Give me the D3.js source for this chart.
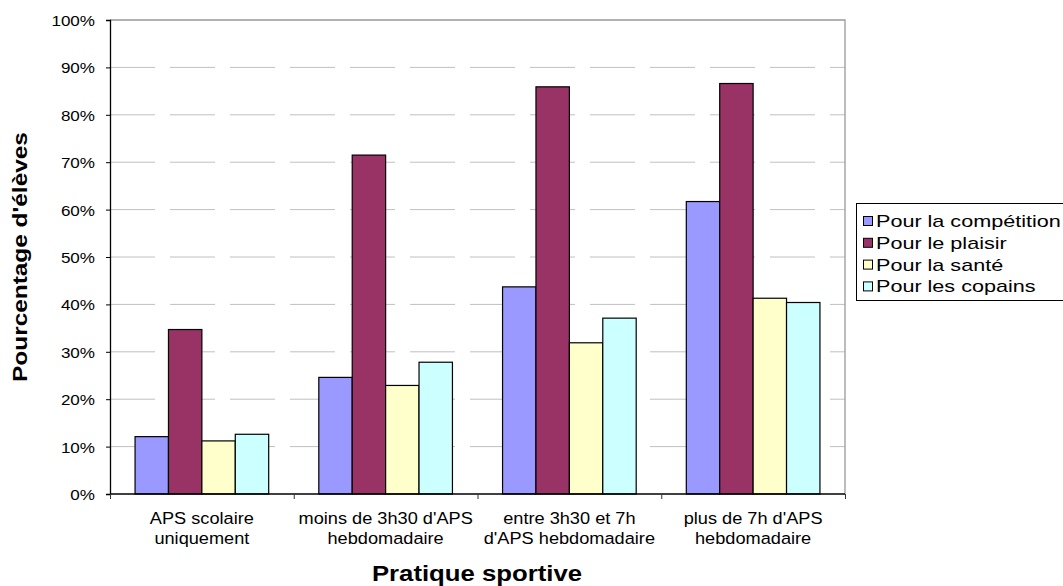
<!DOCTYPE html>
<html><head><meta charset="utf-8">
<script src="https://cdn.jsdelivr.net/npm/d3@7/dist/d3.min.js"></script>
<style>body{margin:0;background:#fff}svg{display:block;font-family:Arial,"Liberation Sans",sans-serif}</style>
</head><body><svg id="c" width="1063" height="586"></svg>
<script>
const categories = [["APS scolaire","uniquement"],["moins de 3h30 d'APS","hebdomadaire"],["entre 3h30 et 7h","d'APS hebdomadaire"],["plus de 7h d'APS","hebdomadaire"]];
const seriesNames = ["Pour la compétition","Pour le plaisir","Pour la santé","Pour les copains"];
const competition = [12.1, 24.6, 43.7, 61.7];
const plaisir = [34.7, 71.5, 85.9, 86.6];
const sante = [11.2, 22.9, 31.9, 41.3];
const copains = [12.6, 27.8, 37.1, 40.4];
const yTicks = [0,10,20,30,40,50,60,70,80,90,100];
const colors = ["#9999FF","#993366","#FFFFCC","#CCFFFF"];
const seriesValues = [competition, plaisir, sante, copains];

const svg = d3.select("#c");
const L=110, R=845, T=20, B=494;
const y = d3.scaleLinear().domain([0,100]).range([B,T]);
const x0 = d3.scaleBand().domain(d3.range(categories.length)).range([L,R]).padding(0);
const bw = x0.bandwidth();
const x1 = d3.scaleBand().domain(d3.range(seriesNames.length)).range([bw*0.75/5.5, bw*4.75/5.5]).padding(0);

function stretchText(g, x, yy, k, rot){
  return g.attr("transform", `translate(${x},${yy})` + (rot?` rotate(${rot})`:"") + ` scale(${k},1)`);
}

// gridlines
svg.append("g").selectAll("line").data(yTicks.filter(d=>d>0 && d<100)).join("line")
  .attr("x1",L).attr("x2",R).attr("y1",d=>y(d)).attr("y2",d=>y(d))
  .attr("stroke","#c0c0c0").attr("stroke-width",1).attr("stroke-dasharray","45,15");
// top & right border
svg.append("path").attr("d",`M${L},${y(100)}H${R}V${B}`).attr("fill","none").attr("stroke","#999").attr("stroke-width",1.3);

// bars
const groups = svg.append("g").selectAll("g").data(categories).join("g")
  .attr("transform",(d,i)=>`translate(${x0(i)},0)`);
groups.selectAll("rect").data((d,i)=>seriesValues.map((s,j)=>({j, v:s[i]}))).join("rect")
  .attr("x",d=>x1(d.j)).attr("width",x1.bandwidth())
  .attr("y",d=>y(d.v)).attr("height",d=>B-y(d.v))
  .attr("fill",d=>colors[d.j]).attr("stroke","#000").attr("stroke-width",1.2);

// y axis
const yAxis = d3.axisLeft(y).tickValues(yTicks).tickSize(4).tickFormat(d=>d+"%");
const ga = svg.append("g").attr("transform",`translate(${L},0)`).call(yAxis);
ga.select(".domain").attr("stroke","#000").attr("stroke-width",1.3);
ga.selectAll(".tick line").attr("stroke","#000");
ga.selectAll(".tick text").remove();
ga.selectAll(".tick").append("text").attr("fill","#000").attr("font-size","15.5px")
  .attr("text-anchor","end").attr("dy","0.36em")
  .attr("transform","translate(-15,0) scale(1.1,1)")
  .text(d=>d+"%");

// x axis
const xAxis = d3.axisBottom(d3.scaleLinear().domain([0,categories.length]).range([L,R]))
  .tickValues(d3.range(categories.length+1)).tickSize(5).tickFormat("");
const gx = svg.append("g").attr("transform",`translate(0,${B})`).call(xAxis);
gx.select(".domain").attr("stroke","#000").attr("stroke-width",1.3).attr("d",`M${L},0H${R}`);
gx.selectAll(".tick line").attr("stroke","#333");

// category labels
categories.forEach((c,i)=>{
  c.forEach((line,k)=>{
    stretchText(svg.append("text"), x0(i)+bw/2, 524+k*20, 1.07)
      .attr("text-anchor","middle").attr("font-size","17px").attr("fill","#000").text(line);
  });
});

// axis titles
stretchText(svg.append("text"), 477, 581, 1.17)
  .attr("text-anchor","middle").attr("font-size","22px").attr("font-weight","bold").text("Pratique sportive");
stretchText(svg.append("text"), 27, 257, 1.22, -90)
  .attr("text-anchor","middle").attr("font-size","20px").attr("font-weight","bold").text("Pourcentage d'élèves");

// legend
const lg = svg.append("g");
lg.append("rect").attr("x",856.5).attr("y",203.5).attr("width",230).attr("height",97)
  .attr("fill","#fff").attr("stroke","#000").attr("stroke-width",1);
seriesNames.forEach((n,i)=>{
  const cy = 221 + i*21.8;
  lg.append("rect").attr("x",863.5).attr("y",cy-4.5).attr("width",9).attr("height",9)
    .attr("fill",colors[i]).attr("stroke","#000").attr("stroke-width",1);
  stretchText(lg.append("text"), 876, cy+6, 1.27).attr("font-size","17px").attr("fill","#000").text(n);
});
</script></body></html>
